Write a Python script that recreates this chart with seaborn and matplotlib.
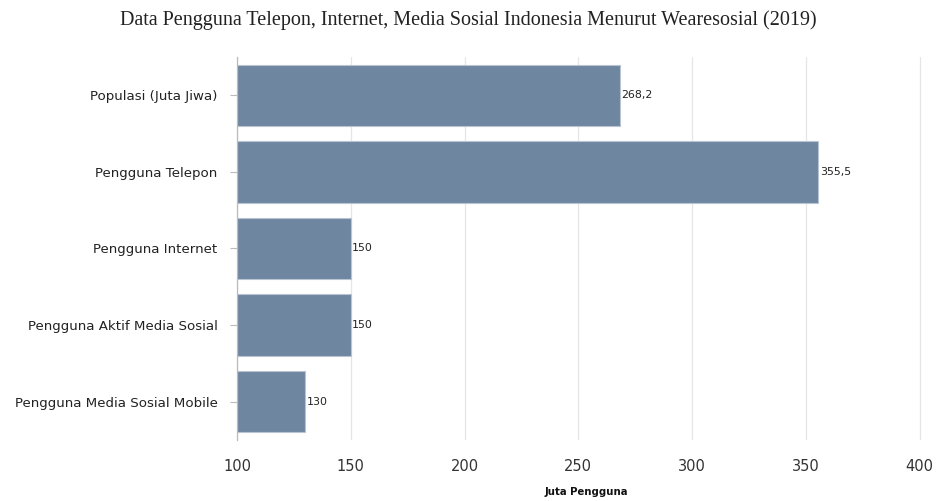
import matplotlib
matplotlib.use("Agg")
import matplotlib.pyplot as plt
import seaborn as sns
import pandas as pd

categories = ["Populasi (Juta Jiwa)", "Pengguna Telepon", "Pengguna Internet",
              "Pengguna Aktif Media Sosial", "Pengguna Media Sosial Mobile"]
values = [268.2, 355.5, 150, 150, 130]
value_labels = ["268,2", "355,5", "150", "150", "130"]
x_ticks = [100, 150, 200, 250, 300, 350, 400]

df = pd.DataFrame({"kategori": categories, "nilai": values})

sns.set_theme(style="white")
plt.rcParams['font.family'] = ['DejaVu Sans']

fig = plt.figure(figsize=(9.36, 5.01), dpi=100)
ax = fig.add_axes([0.2532, 0.1218, 0.7463, 0.7645])

sns.barplot(data=df, y="kategori", x="nilai", orient="h", color="#6f86a1",
            saturation=1, width=0.8, edgecolor="#b9c4d2", linewidth=0.8, ax=ax,
            zorder=2)

ax.set_xlim(100, 407)
ax.set_ylim(4.5, -0.5)
ax.set_xticks(x_ticks)
ax.set_xticklabels([str(t) for t in x_ticks], fontsize=10.5, color="#333333")
ax.tick_params(axis="x", length=0, pad=14)
ax.tick_params(axis="y", length=5, color="#bbbbbb", width=0.8, labelsize=9.6,
               labelcolor="#222222", pad=9, left=True)
ax.xaxis.grid(True, color="#e6e6e6", linewidth=0.9, zorder=0)
ax.set_axisbelow(True)
for s in ["top", "right", "bottom"]:
    ax.spines[s].set_visible(False)
ax.spines["left"].set_color("#bbbbbb")
ax.spines["left"].set_linewidth(0.9)

for i, (v, lab) in enumerate(zip(values, value_labels)):
    ax.text(v + 0.6, i, lab, va="center", ha="left", fontsize=7.9, color="#222222")

ax.set_ylabel("")
ax.set_xlabel("Juta Pengguna", fontsize=7.3, fontweight="bold", color="#111111", labelpad=9)

fig.text(0.5, 0.959, "Data Pengguna Telepon, Internet, Media Sosial Indonesia Menurut Wearesosial (2019)",
         ha="center", va="center", fontsize=14.5, family=["Liberation Serif"], color="#222222")

fig.savefig("out.png", dpi=100)
